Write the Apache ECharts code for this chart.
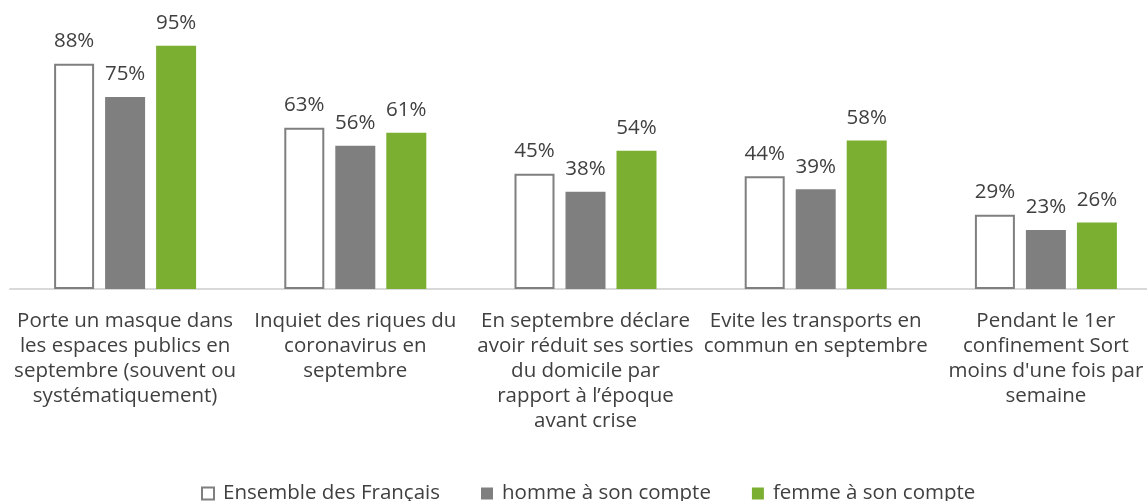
<!DOCTYPE html>
<html>
<head>
<meta charset="utf-8">
<script src="https://cdn.jsdelivr.net/npm/echarts@6/dist/echarts.min.js"></script>
<style>
  html, body { margin: 0; padding: 0; background: #fff; overflow: hidden; }
  #chart { width: 1161px; height: 501px; }
</style>
</head>
<body>
<div id="chart"></div>
<script>
var categories = [
  'Porte un masque dans\nles espaces publics en\nseptembre (souvent ou\nsystématiquement)',
  'Inquiet des riques du\ncoronavirus en\nseptembre',
  'En septembre déclare\navoir réduit ses sorties\ndu domicile par\nrapport à l’époque\navant crise',
  'Evite les transports en\ncommun en septembre',
  'Pendant le 1er\nconfinement Sort\nmoins d\'une fois par\nsemaine'
];
var seriesNames = ['Ensemble des Français', 'homme à son compte', 'femme à son compte'];
var ensemble = [88, 63, 45, 44, 29];
var homme = [75, 56, 38, 39, 23];
var femme = [95, 61, 54, 58, 26];

var font = 'Open Sans';
var textColor = '#404040';

// la zone de tracé déborde un peu à droite, comme dans l'original
var myChart = echarts.init(document.getElementById('chart'));

var labelOpt = {
  show: true,
  position: 'top',
  distance: 12,
  formatter: '{c}%',
  fontFamily: font,
  fontSize: 20.5,
  color: textColor
};

option = {
  animation: false,
  legend: {
    top: 478,
    left: 196,
    icon: 'rect',
    itemWidth: 12,
    itemHeight: 12,
    itemGap: 41,
    textStyle: { fontFamily: font, fontSize: 20.5, color: textColor, padding: [0, 0, 0, 4] },
    data: seriesNames
  },
  grid: { left: 10, right: 0, top: 33, bottom: 212 },
  xAxis: {
    type: 'category',
    data: categories,
    axisLine: { lineStyle: { color: '#d9d9d9', width: 2 } },
    axisTick: { show: false },
    axisLabel: {
      interval: 0,
      margin: 20,
      fontFamily: font,
      fontSize: 20.5,
      lineHeight: 25,
      color: textColor
    }
  },
  yAxis: {
    type: 'value',
    min: 0,
    max: 100,
    show: false
  },
  series: [
    {
      name: seriesNames[0],
      type: 'bar',
      data: ensemble,
      barWidth: 40,
      barGap: '27.5%',
      itemStyle: { color: '#ffffff', borderColor: '#7f7f7f', borderWidth: 2 },
      label: labelOpt
    },
    {
      name: seriesNames[1],
      type: 'bar',
      data: homme,
      barWidth: 40,
      barGap: '27.5%',
      itemStyle: { color: '#7f7f7f' },
      label: labelOpt
    },
    {
      name: seriesNames[2],
      type: 'bar',
      data: femme,
      barWidth: 40,
      barGap: '27.5%',
      itemStyle: { color: '#7aaf31' },
      label: labelOpt
    }
  ]
};
myChart.setOption(option);
</script>
</body>
</html>
